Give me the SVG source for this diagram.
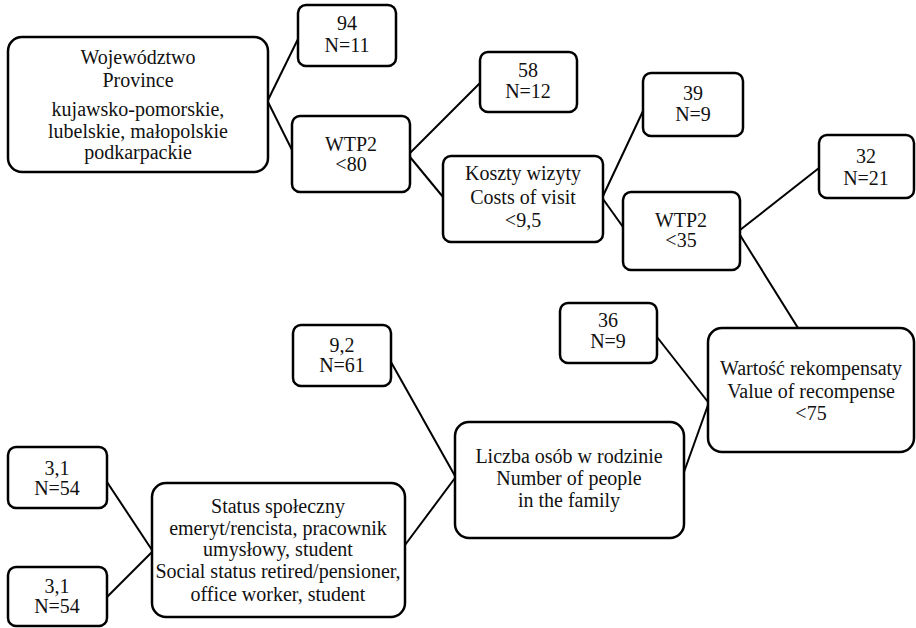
<svg xmlns="http://www.w3.org/2000/svg" width="916" height="628" viewBox="0 0 916 628" font-family="Liberation Serif, DejaVu Serif, serif">
<style>
.b{fill:#fff;stroke:#000;stroke-width:2.5}
.t{font-family:'Liberation Serif','DejaVu Serif',serif;font-size:20px;fill:#111;text-anchor:middle}
.c{stroke:#000;stroke-width:2;fill:none}
</style>
<rect width="916" height="628" fill="#fff"/>
<g id="connectors">
<line class="c" x1="268" y1="100" x2="298" y2="39"/>
<line class="c" x1="268" y1="102" x2="292" y2="150"/>
<line class="c" x1="410" y1="153" x2="480" y2="83"/>
<line class="c" x1="410" y1="157" x2="443" y2="197"/>
<line class="c" x1="603" y1="196" x2="643" y2="111"/>
<line class="c" x1="603" y1="199" x2="623" y2="227"/>
<line class="c" x1="740" y1="230" x2="819" y2="168"/>
<line class="c" x1="740" y1="235" x2="798" y2="328"/>
<line class="c" x1="657" y1="337" x2="708" y2="402"/>
<line class="c" x1="708" y1="405" x2="684" y2="472"/>
<line class="c" x1="391" y1="362" x2="455" y2="476"/>
<line class="c" x1="455" y1="478" x2="405" y2="545"/>
<line class="c" x1="107" y1="482" x2="152" y2="550"/>
<line class="c" x1="152" y1="552" x2="107" y2="597"/>
</g>
<g id="province">
<rect class="b" x="8" y="37" width="260" height="135" rx="14"/>
<text class="t" x="138" y="64">Województwo</text>
<text class="t" x="138" y="87">Province</text>
<text class="t" x="138" y="116">kujawsko-pomorskie,</text>
<text class="t" x="138" y="138">lubelskie, małopolskie</text>
<text class="t" x="138" y="159">podkarpackie</text>
</g>
<g id="n94">
<rect class="b" x="298" y="5" width="98" height="61" rx="8"/>
<text class="t" x="347" y="30">94</text>
<text class="t" x="347" y="52">N=11</text>
</g>
<g id="wtp80">
<rect class="b" x="292" y="116" width="118" height="76" rx="8"/>
<text class="t" x="351" y="151">WTP2</text>
<text class="t" x="351" y="171">&lt;80</text>
</g>
<g id="n58">
<rect class="b" x="480" y="52" width="97" height="60" rx="8"/>
<text class="t" x="528" y="77">58</text>
<text class="t" x="528" y="98">N=12</text>
</g>
<g id="koszty">
<rect class="b" x="443" y="156" width="160" height="86" rx="8"/>
<text class="t" x="523" y="180">Koszty wizyty</text>
<text class="t" x="523" y="204">Costs of visit</text>
<text class="t" x="523" y="227">&lt;9,5</text>
</g>
<g id="n39">
<rect class="b" x="643" y="73" width="100" height="63" rx="8"/>
<text class="t" x="693" y="100">39</text>
<text class="t" x="693" y="121">N=9</text>
</g>
<g id="wtp35">
<rect class="b" x="623" y="192" width="117" height="78" rx="8"/>
<text class="t" x="681" y="227">WTP2</text>
<text class="t" x="681" y="247">&lt;35</text>
</g>
<g id="n32">
<rect class="b" x="819" y="135" width="95" height="63" rx="8"/>
<text class="t" x="866" y="163">32</text>
<text class="t" x="866" y="185">N=21</text>
</g>
<g id="wartosc">
<rect class="b" x="708" y="328" width="206" height="124" rx="14"/>
<text class="t" x="811" y="375">Wartość rekompensaty</text>
<text class="t" x="811" y="398">Value of recompense</text>
<text class="t" x="811" y="420">&lt;75</text>
</g>
<g id="n36">
<rect class="b" x="560" y="303" width="97" height="60" rx="8"/>
<text class="t" x="608" y="327">36</text>
<text class="t" x="608" y="348">N=9</text>
</g>
<g id="n92">
<rect class="b" x="293" y="325" width="98" height="61" rx="8"/>
<text class="t" x="342" y="352">9,2</text>
<text class="t" x="342" y="372">N=61</text>
</g>
<g id="liczba">
<rect class="b" x="455" y="422" width="229" height="116" rx="14"/>
<text class="t" x="569" y="463">Liczba osób w rodzinie</text>
<text class="t" x="569" y="485">Number of people</text>
<text class="t" x="569" y="507">in the family</text>
</g>
<g id="n31a">
<rect class="b" x="8" y="447" width="99" height="61" rx="8"/>
<text class="t" x="57" y="475">3,1</text>
<text class="t" x="57" y="495">N=54</text>
</g>
<g id="n31b">
<rect class="b" x="8" y="567" width="99" height="59" rx="8"/>
<text class="t" x="57" y="593">3,1</text>
<text class="t" x="57" y="613">N=54</text>
</g>
<g id="status">
<rect class="b" x="152" y="483" width="253" height="134" rx="14"/>
<text class="t" x="278" y="513">Status społeczny</text>
<text class="t" x="278" y="535">emeryt/rencista, pracownik</text>
<text class="t" x="278" y="556">umysłowy, student</text>
<text class="t" x="278" y="578">Social status retired/pensioner,</text>
<text class="t" x="278" y="601">office worker, student</text>
</g>
</svg>
